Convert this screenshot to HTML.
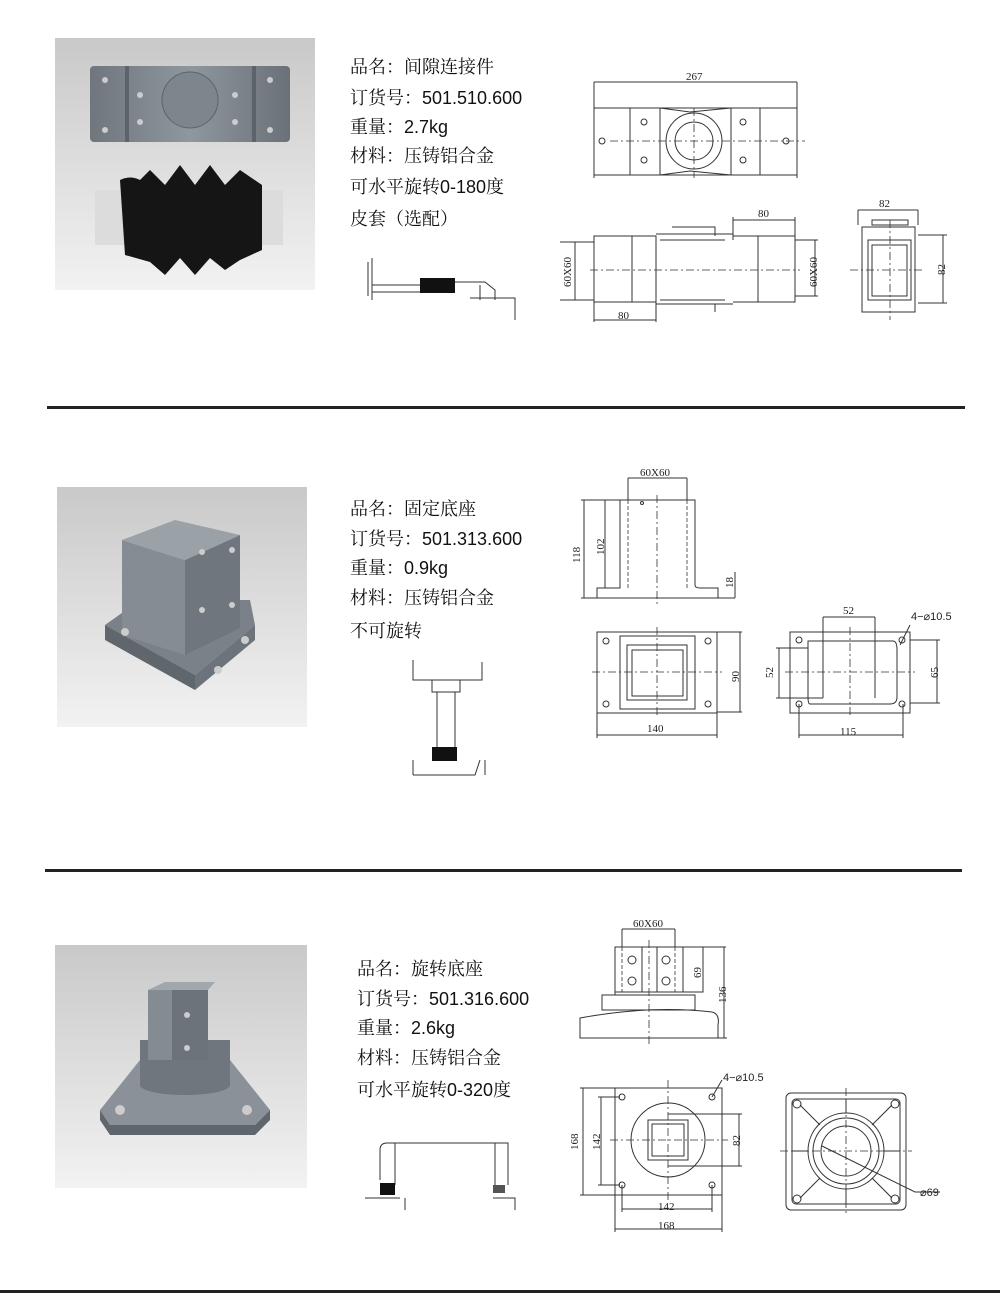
<!DOCTYPE html>
<html><head><meta charset="utf-8"><style>
body{margin:0;background:#fff;}
svg{display:block}
.t{font-family:"Liberation Sans","Noto Serif CJK SC",serif;font-size:18px;fill:#111}
.d{font-family:"Liberation Serif",serif;font-size:11px;fill:#222}
.l{fill:none;stroke:#333;stroke-width:1}
.c{fill:none;stroke:#333;stroke-width:.8;stroke-dasharray:8 3 2 3}
.h{fill:none;stroke:#333;stroke-width:.8;stroke-dasharray:4 2}
</style></head><body>
<svg width="1000" height="1299" viewBox="0 0 1000 1299" xmlns="http://www.w3.org/2000/svg">
<defs>
<linearGradient id="bg" x1="0" y1="0" x2="0" y2="1"><stop offset="0" stop-color="#c9c9c9"/><stop offset="1" stop-color="#f2f2f2"/></linearGradient>
<linearGradient id="mt" x1="0" y1="0" x2="1" y2="0"><stop offset="0" stop-color="#6f767d"/><stop offset=".5" stop-color="#8f979e"/><stop offset="1" stop-color="#6a7178"/></linearGradient>
</defs>
<!-- Section 1 photo -->
<rect x="55" y="38" width="260" height="252" fill="url(#bg)"/>
<rect x="90" y="66" width="200" height="76" rx="4" fill="url(#mt)"/>
<rect x="125" y="66" width="4" height="76" fill="#5c6369"/><rect x="252" y="66" width="4" height="76" fill="#5c6369"/>
<circle cx="190" cy="100" r="28" fill="#7e868d" stroke="#5c6369"/>
<g fill="#ccc"><circle cx="105" cy="80" r="3"/><circle cx="105" cy="130" r="3"/><circle cx="270" cy="80" r="3"/><circle cx="270" cy="130" r="3"/><circle cx="140" cy="95" r="3"/><circle cx="235" cy="95" r="3"/><circle cx="140" cy="122" r="3"/><circle cx="235" cy="122" r="3"/></g>
<rect x="95" y="190" width="30" height="55" fill="#dcdcdc"/>
<rect x="255" y="190" width="28" height="55" fill="#dcdcdc"/>
<path d="M120 180 Q130 175 140 180 L150 170 L165 185 L180 165 L195 185 L210 165 L225 185 L240 170 L262 185 L262 250 L240 260 L225 270 L210 258 L195 275 L180 258 L165 275 L150 262 L125 255 Z" fill="#151515"/>
<!-- text 1 -->
<text class="t" x="350" y="73">品名：间隙连接件</text>
<text class="t" x="350" y="104">订货号：501.510.600</text>
<text class="t" x="350" y="133">重量：2.7kg</text>
<text class="t" x="350" y="162">材料：压铸铝合金</text>
<text class="t" x="350" y="193">可水平旋转0-180度</text>
<text class="t" x="350" y="225">皮套（选配）</text>
<!-- sketch 1 -->
<g class="l"><path d="M372 258 V300 M368 262 V296 M372 285 H420 M372 292 H420 M420 280 H455 M455 282 H485 L495 290 V300 M470 298 H515 V320 M480 285 V300"/></g>
<rect x="420" y="278" width="35" height="15" fill="#111"/>
<!-- drawings 1 top -->
<text class="d" x="686" y="80" font-size="12">267</text>
<path class="l" d="M594 82 H797 M594 82 V178 M797 82 V178 M594 108 H797 V175 H594 Z M630 108 V175 M660 108 V175 M731 108 V175 M760 108 V175 M660 108 L690 112 L731 108 M660 175 L690 171 L731 175"/>
<circle class="l" cx="694" cy="141" r="28"/><circle class="l" cx="694" cy="141" r="19"/>
<path class="c" d="M610 141 H805 M694 108 V178"/>
<g class="l"><circle cx="602" cy="141" r="3"/><circle cx="786" cy="141" r="3"/><circle cx="644" cy="122" r="3"/><circle cx="644" cy="160" r="3"/><circle cx="743" cy="122" r="3"/><circle cx="743" cy="160" r="3"/></g>
<!-- side -->
<text class="d" x="758" y="217" font-size="12">80</text>
<path class="l" d="M733 220 H795 M733 217 V240 M795 217 V300 M594 236 H656 V302 H594 Z M632 236 V302 M656 234 H733 M656 304 H733 M660 240 H725 M660 300 H725 M672 227 H715 V236 M672 304 H715 V312 M733 236 H795 V302 H733 M758 236 V302 M594 302 V322 M656 302 V322 M594 320 H656 M560 242 H594 M560 300 H594 M575 242 V300 M795 240 H818 M795 296 H818 M815 240 V296"/>
<path class="c" d="M590 270 H800"/>
<text class="d" x="618" y="319" font-size="12">80</text>
<text class="d" transform="translate(571,287) rotate(-90)" font-size="11">60X60</text>
<text class="d" transform="translate(817,287) rotate(-90)" font-size="11">60X60</text>
<!-- end view -->
<text class="d" x="879" y="207" font-size="12">82</text>
<path class="l" d="M858 210 H918 M858 210 V225 M918 210 V225 M862 227 H915 V312 H862 Z M868 240 H911 V300 H868 Z M872 245 H907 V296 H872 Z M872 225 H908 V220 H872 Z M918 235 H947 M918 303 H947 M943 235 V303"/>
<path class="c" d="M850 270 H925 M890 220 V320"/>
<text class="d" transform="translate(945,275) rotate(-90)" font-size="12">82</text>
<rect x="47" y="406" width="918" height="3" fill="#222"/>
<!-- Section 2 photo -->
<rect x="57" y="487" width="250" height="240" fill="url(#bg)"/>
<path d="M105 625 L140 600 L250 600 L255 625 L195 675 Z" fill="#7a8188"/>
<path d="M105 625 L195 675 L195 690 L105 640 Z" fill="#5f666c"/>
<path d="M195 675 L255 625 L255 640 L195 690 Z" fill="#6c737a"/>
<path d="M122 540 L185 560 L185 655 L122 635 Z" fill="#858c93"/>
<path d="M185 560 L240 535 L240 628 L185 655 Z" fill="#6f767d"/>
<path d="M122 540 L175 520 L240 535 L185 560 Z" fill="#9aa1a7"/>
<g fill="#ccc"><circle cx="202" cy="552" r="3"/><circle cx="232" cy="550" r="3"/><circle cx="202" cy="610" r="3"/><circle cx="232" cy="605" r="3"/><circle cx="125" cy="632" r="4"/><circle cx="218" cy="670" r="4"/><circle cx="245" cy="640" r="4"/></g>
<text class="t" x="350" y="515">品名：固定底座</text>
<text class="t" x="350" y="545">订货号：501.313.600</text>
<text class="t" x="350" y="574">重量：0.9kg</text>
<text class="t" x="350" y="604">材料：压铸铝合金</text>
<text class="t" x="350" y="637">不可旋转</text>
<path class="l" d="M413 660 V680 H482 V662 M432 680 V692 H460 V680 M437 692 V750 M455 692 V750 M413 775 H475 L480 760 M413 760 V775 M485 775 V760"/>
<rect x="432" y="747" width="25" height="14" fill="#111"/>
<!-- drawing 2 front -->
<text class="d" x="640" y="476" font-size="12">60X60</text>
<path class="l" d="M628 478 H687 M628 478 V500 M687 478 V500 M620 500 H695 V585 Q695 588 700 588 H718 V598 H597 V588 H620 Z M605 500 V588 M581 500 H620 M581 598 H597 M584 500 V598 M735 572 V598 M718 598 H735"/>
<path class="h" d="M628 500 V588 M687 500 V588"/>
<path class="c" d="M657 495 V605"/>
<circle class="l" cx="642" cy="503" r="1.5"/>
<text class="d" transform="translate(580,563) rotate(-90)" font-size="12">118</text>
<text class="d" transform="translate(604,555) rotate(-90)" font-size="12">102</text>
<text class="d" transform="translate(733,588) rotate(-90)" font-size="11">18</text>
<!-- bottom 1 -->
<path class="l" d="M597 632 H717 V713 H597 Z M620 636 H695 V709 H620 Z M627 645 H687 V700 H627 Z M632 650 H683 V696 H632 Z M717 632 H742 M717 712 H742 M740 632 V712 M597 713 V738 M717 713 V738 M597 735 H717"/>
<path class="c" d="M592 672 H722 M657 627 V718"/>
<g class="l"><circle cx="606" cy="641" r="3"/><circle cx="708" cy="641" r="3"/><circle cx="606" cy="704" r="3"/><circle cx="708" cy="704" r="3"/></g>
<text class="d" x="647" y="732" font-size="12">140</text>
<text class="d" transform="translate(739,682) rotate(-90)" font-size="12">90</text>
<!-- bottom 2 -->
<text class="d" x="843" y="614" font-size="12">52</text>
<text x="911" y="620" font-family="Liberation Sans,sans-serif" font-size="11" fill="#222">4−⌀10.5</text>
<path class="l" d="M790 632 H910 V713 H790 Z M808 641 H893 Q897 641 897 650 V697 Q897 704 890 704 H810 Q808 704 808 697 Z M823 617 V698 M875 617 V698 M823 617 H875 M776 648 H808 M776 698 H823 M779 648 V698 M910 640 H940 M910 703 H940 M937 640 V703 M799 704 V738 M903 704 V738 M799 735 H903 M900 645 L910 625"/>
<path class="c" d="M785 672 H915 M850 627 V718"/>
<g class="l"><circle cx="799" cy="640" r="3"/><circle cx="902" cy="640" r="3"/><circle cx="799" cy="704" r="3"/><circle cx="902" cy="704" r="3"/></g>
<text class="d" x="840" y="735" font-size="12">115</text>
<text class="d" transform="translate(773,678) rotate(-90)" font-size="12">52</text>
<text class="d" transform="translate(938,678) rotate(-90)" font-size="12">65</text>
<rect x="45" y="869" width="917" height="3" fill="#222"/>
<!-- Section 3 photo -->
<rect x="55" y="945" width="252" height="243" fill="url(#bg)"/>
<path d="M100 1110 L140 1060 L230 1060 L270 1110 L255 1125 L110 1125 Z" fill="#8a9198"/>
<path d="M100 1110 L110 1125 L255 1125 L270 1110 L270 1120 L255 1135 L110 1135 L100 1120 Z" fill="#5f666c"/>
<ellipse cx="185" cy="1062" rx="45" ry="14" fill="#7a8188"/>
<rect x="140" y="1040" width="90" height="45" fill="#6f767d"/>
<ellipse cx="185" cy="1085" rx="45" ry="10" fill="#6f767d"/>
<rect x="148" y="990" width="60" height="70" fill="#848b92"/>
<rect x="172" y="990" width="36" height="70" fill="#6c737a"/>
<path d="M148 990 L165 982 L215 982 L208 990 Z" fill="#a0a7ad"/>
<g fill="#ccc"><circle cx="187" cy="1015" r="3"/><circle cx="187" cy="1048" r="3"/><circle cx="120" cy="1110" r="5"/><circle cx="247" cy="1110" r="5"/></g>
<text class="t" x="357" y="975">品名：旋转底座</text>
<text class="t" x="357" y="1005">订货号：501.316.600</text>
<text class="t" x="357" y="1034">重量：2.6kg</text>
<text class="t" x="357" y="1064">材料：压铸铝合金</text>
<text class="t" x="357" y="1096">可水平旋转0-320度</text>
<path class="l" d="M380 1180 V1150 Q380 1143 387 1143 H508 V1185 M395 1143 V1185 M495 1143 V1185 M365 1198 H400 M493 1198 H515 V1210 M405 1198 V1210"/>
<rect x="380" y="1183" width="15" height="12" fill="#111"/>
<rect x="493" y="1185" width="12" height="8" fill="#555"/>
<!-- drawing 3 side -->
<text class="d" x="633" y="927" font-size="12">60X60</text>
<path class="l" d="M622 929 H675 M622 929 V947 M675 929 V947 M615 947 H703 V992 H615 Z M642 947 V992 M657 947 V992 M683 947 V992 M602 995 H695 V1010 H602 Z M615 992 V995 M703 947 H726 M703 1038 H727 M724 947 V1038 M580 1018 Q650 1005 712 1012 Q720 1014 718 1025 V1038 H580 Z"/>
<path class="h" d="M622 947 V992 M675 947 V992"/>
<path class="c" d="M649 940 V1045"/>
<g class="l"><circle cx="632" cy="960" r="4"/><circle cx="666" cy="960" r="4"/><circle cx="632" cy="981" r="4"/><circle cx="666" cy="981" r="4"/></g>
<text class="d" transform="translate(701,978) rotate(-90)" font-size="12">69</text>
<text class="d" transform="translate(726,1003) rotate(-90)" font-size="12">136</text>
<!-- plan -->
<text x="723" y="1081" font-family="Liberation Sans,sans-serif" font-size="11" fill="#222">4−⌀10.5</text>
<path class="l" d="M615 1088 H722 V1195 H615 Z M580 1088 H615 M580 1195 H615 M583 1088 V1195 M598 1097 H620 M598 1185 H620 M601 1097 V1185 M668 1114 H742 M668 1166 H742 M739 1114 V1166 M622 1185 V1212 M712 1185 V1212 M622 1209 H712 M615 1195 V1232 M722 1195 V1232 M615 1229 H722 M648 1120 H688 V1160 H648 Z M652 1124 H684 V1156 H652 Z M712 1097 L722 1080"/>
<circle class="l" cx="668" cy="1140" r="37"/>
<path class="c" d="M610 1140 H728 M668 1080 V1200"/>
<g class="l"><circle cx="622" cy="1097" r="3"/><circle cx="712" cy="1097" r="3"/><circle cx="622" cy="1185" r="3"/><circle cx="712" cy="1185" r="3"/></g>
<text class="d" x="658" y="1210" font-size="12">142</text>
<text class="d" x="658" y="1229" font-size="12">168</text>
<text class="d" transform="translate(578,1150) rotate(-90)" font-size="12">168</text>
<text class="d" transform="translate(600,1150) rotate(-90)" font-size="12">142</text>
<text class="d" transform="translate(740,1146) rotate(-90)" font-size="12">82</text>
<!-- right -->
<rect class="l" x="786" y="1093" width="120" height="117" rx="5"/>
<rect class="l" x="792" y="1099" width="108" height="105" rx="4"/>
<circle class="l" cx="846" cy="1151" r="38"/><circle class="l" cx="846" cy="1151" r="33"/><circle class="l" cx="846" cy="1151" r="25"/>
<path class="l" d="M800 1105 L820 1125 M892 1105 L872 1125 M800 1198 L820 1178 M892 1198 L872 1178 M846 1099 V1113 M846 1189 V1204 M792 1151 H808 M884 1151 H900 M822 1146 L915 1192 H940"/>
<path class="c" d="M780 1151 H912 M846 1088 V1215"/>
<g class="l"><circle cx="797" cy="1104" r="4"/><circle cx="895" cy="1104" r="4"/><circle cx="797" cy="1199" r="4"/><circle cx="895" cy="1199" r="4"/></g>
<text x="920" y="1196" font-family="Liberation Sans,sans-serif" font-size="11" fill="#222">⌀69</text>
<rect x="0" y="1290" width="1000" height="3" fill="#222"/>
</svg>
</body></html>
